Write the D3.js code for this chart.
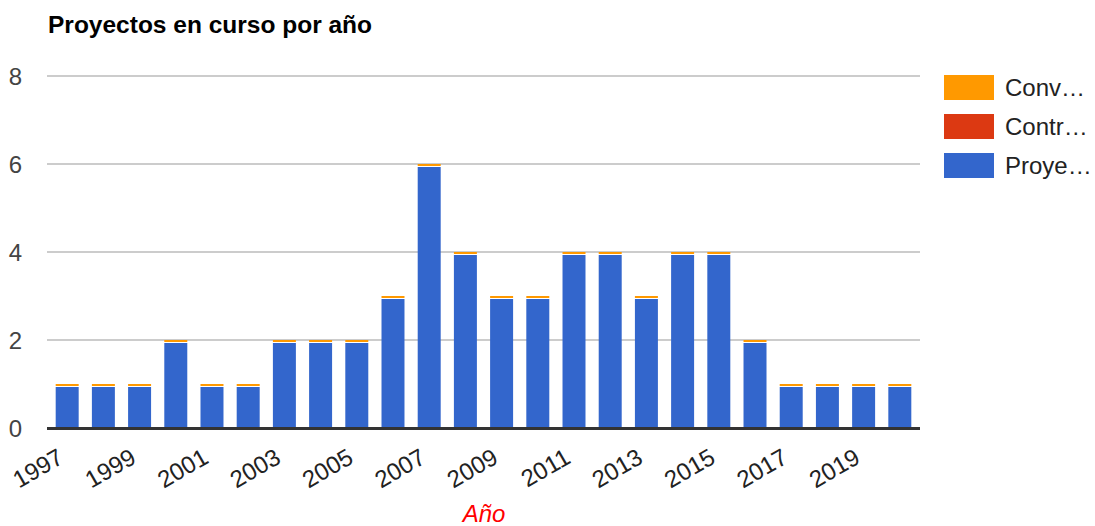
<html>
<head>
	<script src="https://cdn.jsdelivr.net/npm/d3@7"></script>
	<style>
		body { margin: 0; background: #fff; }
		text { font-family: "Liberation Sans", Arial, sans-serif; }
	</style>
</head>
<body>
	<script type="text/javascript">

		// data
		var years = ["1997","1998","1999","2000","2001","2002","2003","2004","2005","2006","2007","2008",
		             "2009","2010","2011","2012","2013","2014","2015","2016","2017","2018","2019","2020"];
		var proyectos     = [1,1,1,2,1,1,2,2,2,3,6,4,3,3,4,4,3,4,4,2,1,1,1,1];
		var contratos     = [0,0,0,0,0,0,0,0,0,0,0,0,0,0,0,0,0,0,0,0,0,0,0,0];
		var convocatorias = [0,0,0,0,0,0,0,0,0,0,0,0,0,0,0,0,0,0,0,0,0,0,0,0];
		var yTicks = [0,2,4,6,8];
		var seriesNames = ["Conv…","Contr…","Proye…"];
		var seriesColors = ["#ff9900","#dc3912","#3366cc"];

		var width = 1095, height = 526;
		var plotLeft = 47, plotRight = 920, plotTop = 76, plotBottom = 428;

		var svg = d3.select("body").append("svg")
				.attr("width", width)
				.attr("height", height);

		var x = d3.scaleBand().domain(years).range([plotLeft, plotRight]).paddingInner(0.365).paddingOuter(0.24);
		var y = d3.scaleLinear().domain([0, 8]).range([plotBottom, plotTop]);

		// title
		svg.append("text")
		   .attr("x", 48).attr("y", 33)
		   .attr("font-size", 24.5).attr("font-weight", "bold").attr("fill", "#000")
		   .text("Proyectos en curso por año");

		// gridlines
		svg.selectAll("line.grid")
		   .data(yTicks.filter(function(d){ return d > 0; }))
		   .enter().append("line")
		   .attr("class", "grid")
		   .attr("x1", plotLeft).attr("x2", plotRight)
		   .attr("y1", function(d){ return y(d); })
		   .attr("y2", function(d){ return y(d); })
		   .attr("stroke", "#cccccc").attr("stroke-width", 2);

		// y labels
		svg.selectAll("text.ytick")
		   .data(yTicks)
		   .enter().append("text")
		   .attr("class", "ytick")
		   .attr("x", 22)
		   .attr("y", function(d){ return y(d); })
		   .attr("dy", "0.36em")
		   .attr("text-anchor", "end")
		   .attr("font-size", 24).attr("fill", "#444")
		   .text(function(d){ return d; });

		// stacked bars: proyectos at bottom, then contratos, convocatorias on top
		var rows = years.map(function(yr, i){
			return {year: yr, p: proyectos[i], c: contratos[i], v: convocatorias[i]};
		});
		var stack = d3.stack().keys(["p","c","v"])(rows);

		// blue part, leaving room for the thin orange cap
		svg.selectAll("rect.proy")
		   .data(stack[0])
		   .enter().append("rect")
		   .attr("class", "proy")
		   .attr("x", function(d){ return x(d.data.year); })
		   .attr("width", x.bandwidth())
		   .attr("y", function(d){ return y(d[1]) + 3; })
		   .attr("height", function(d){ return y(d[0]) - y(d[1]) - 3; })
		   .attr("fill", seriesColors[2]);

		// convocatorias cap (zero values still drawn as a 2px line)
		svg.selectAll("rect.conv")
		   .data(stack[2])
		   .enter().append("rect")
		   .attr("class", "conv")
		   .attr("x", function(d){ return x(d.data.year); })
		   .attr("width", x.bandwidth())
		   .attr("y", function(d){ return y(d[1]); })
		   .attr("height", function(d){ return Math.max(2, y(d[0]) - y(d[1])); })
		   .attr("fill", seriesColors[0]);

		// baseline
		svg.append("line")
		   .attr("x1", plotLeft).attr("x2", plotRight)
		   .attr("y1", y(0) + 0.5).attr("y2", y(0) + 0.5)
		   .attr("stroke", "#333333").attr("stroke-width", 3);

		// x labels, every other year, rotated
		svg.selectAll("text.xtick")
		   .data(years.filter(function(d, i){ return i % 2 == 0; }))
		   .enter().append("text")
		   .attr("class", "xtick")
		   .attr("text-anchor", "end")
		   .attr("font-size", 24).attr("fill", "#222")
		   .attr("transform", function(d){
				var cx = x(d) + x.bandwidth() / 2;
				return "translate(" + (cx - 2) + "," + 462 + ") rotate(-30)";
		   })
		   .text(function(d){ return d; });

		// axis title
		svg.append("text")
		   .attr("x", 484).attr("y", 522)
		   .attr("text-anchor", "middle")
		   .attr("font-size", 24).attr("font-style", "italic").attr("fill", "#ff0000")
		   .text("Año");

		// legend
		var legend = svg.selectAll("g.legend")
		   .data(seriesNames)
		   .enter().append("g")
		   .attr("class", "legend")
		   .attr("transform", function(d, i){ return "translate(944," + (75 + i * 39) + ")"; });

		legend.append("rect")
		   .attr("width", 50).attr("height", 25)
		   .attr("fill", function(d, i){ return seriesColors[i]; });

		legend.append("text")
		   .attr("x", 61).attr("y", 12.5).attr("dy", "0.36em")
		   .attr("font-size", 24).attr("fill", "#222")
		   .text(function(d){ return d; });

	</script>
</body>
</html>
